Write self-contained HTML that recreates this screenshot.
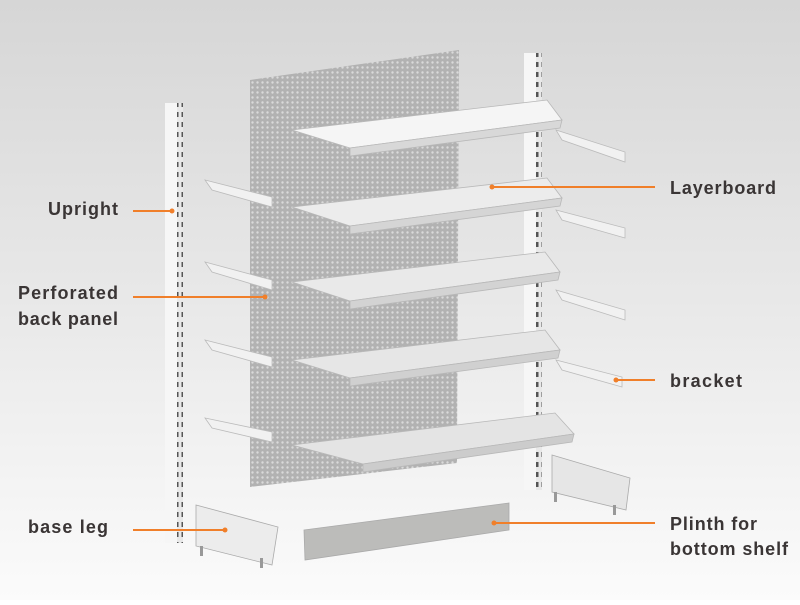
<!DOCTYPE html>
<html><head><meta charset="utf-8"><style>
html,body{margin:0;padding:0;}
body{width:800px;height:600px;overflow:hidden;}
text{font-family:"Liberation Sans",sans-serif;font-weight:bold;font-size:18px;fill:#3a3535;}
</style></head><body>
<svg width="800" height="600" viewBox="0 0 800 600" xmlns="http://www.w3.org/2000/svg">
<defs>
<linearGradient id="bg" x1="0" y1="0" x2="0" y2="1">
<stop offset="0" stop-color="#d6d6d6"/><stop offset="0.6" stop-color="#ececec"/><stop offset="1" stop-color="#fbfbfb"/>
</linearGradient>
<pattern id="perf" width="5" height="5" patternUnits="userSpaceOnUse">
<rect width="5" height="5" fill="#b2b2b2"/>
<circle cx="2.5" cy="2.5" r="1.2" fill="#dadada"/>
</pattern>
<pattern id="slots" width="6" height="10" patternUnits="userSpaceOnUse">
<rect width="6" height="10" fill="#e8e8e8"/>
<rect x="1.5" y="2" width="3" height="5" fill="#555"/>
</pattern>
</defs>
<rect width="800" height="600" fill="url(#bg)"/>

<polygon points="250,80 459,50 457,463 250,487" fill="url(#perf)"/>

<rect x="165" y="103" width="12" height="440" fill="#f6f6f6"/>
<rect x="177" y="103" width="6" height="440" fill="url(#slots)"/>
<rect x="524" y="53" width="12" height="437" fill="#f6f6f6"/>
<rect x="536" y="53" width="6" height="437" fill="url(#slots)"/>

<g fill="#f1f1f1" stroke="#bbb" stroke-width="0.8">
<polygon points="205,180 272,197 272,207 212,190"/>
<polygon points="205,262 272,280 272,290 212,272"/>
<polygon points="205,340 272,357 272,367 212,350"/>
<polygon points="205,418 272,432 272,442 212,428"/>
<polygon points="556,130 625,152 625,162 562,140"/>
<polygon points="556,210 625,228 625,238 562,220"/>
<polygon points="556,290 625,310 625,320 562,300"/>
<polygon points="556,360 622,377 622,387 562,370"/>
</g>

<g stroke="#b8b8b8" stroke-width="0.8">
<polygon points="292,130 547,100 562,120 350,148" fill="#f5f5f5"/>
<polygon points="350,148 562,120 560,128 350,156" fill="#d8d8d8"/>
<polygon points="292,207 547,178 562,198 350,226" fill="#ececec"/>
<polygon points="350,226 562,198 560,206 350,234" fill="#d5d5d5"/>
<polygon points="292,282 545,252 560,272 350,301" fill="#e9e9e9"/>
<polygon points="350,301 560,272 558,280 350,309" fill="#d3d3d3"/>
<polygon points="292,360 545,330 560,350 350,378" fill="#e6e6e6"/>
<polygon points="350,378 560,350 558,358 350,386" fill="#d0d0d0"/>
<polygon points="292,445 555,413 574,434 363,464" fill="#e4e4e4"/>
<polygon points="363,464 574,434 572,442 363,472" fill="#cccccc"/>
</g>

<g stroke="#aaa" stroke-width="0.8">
<polygon points="196,505 278,527 272,565 196,546" fill="#ececec"/>
<polygon points="552,455 630,478 626,510 552,492" fill="#e6e6e6"/>
<polygon points="304,530 509,503 509,530 305,560" fill="#bcbcba"/>
</g>
<g fill="#999">
<rect x="200" y="546" width="3" height="10"/><rect x="260" y="558" width="3" height="10"/>
<rect x="554" y="492" width="3" height="10"/><rect x="613" y="505" width="3" height="10"/>
</g>

<g stroke="#f07f2a" stroke-width="2" fill="none">
<line x1="133" y1="211" x2="172" y2="211"/>
<line x1="133" y1="297" x2="265" y2="297"/>
<line x1="133" y1="530" x2="225" y2="530"/>
<line x1="492" y1="187" x2="655" y2="187"/>
<line x1="616" y1="380" x2="655" y2="380"/>
<line x1="494" y1="523" x2="655" y2="523"/>
</g>
<g fill="#f07f2a">
<circle cx="172" cy="211" r="2.5"/><circle cx="265" cy="297" r="2.5"/><circle cx="225" cy="530" r="2.5"/>
<circle cx="492" cy="187" r="2.5"/><circle cx="616" cy="380" r="2.5"/><circle cx="494" cy="523" r="2.5"/>
</g>

<text x="48" y="215" textLength="70">Upright</text>
<text x="18" y="299" textLength="100">Perforated</text>
<text x="18" y="325" textLength="100">back panel</text>
<text x="28" y="533" textLength="80">base leg</text>
<text x="670" y="194" textLength="106">Layerboard</text>
<text x="670" y="387" textLength="72">bracket</text>
<text x="670" y="530" textLength="87">Plinth for</text>
<text x="670" y="555" textLength="118">bottom shelf</text>
</svg>
</body></html>
